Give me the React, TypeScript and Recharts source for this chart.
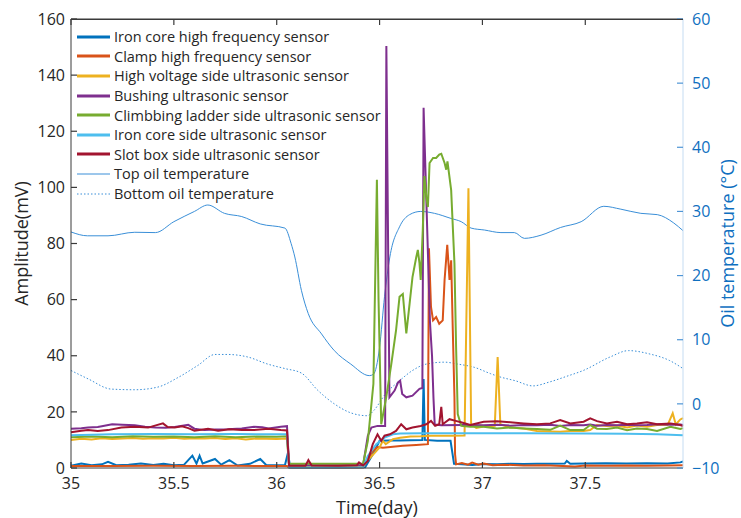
import { LineChart, Line, XAxis, YAxis, Legend, Label } from 'recharts';

type Pt = [number, number];

const FONT = '"Open Sans", "Noto Sans", sans-serif';
const AXIS = '#3a3a3a';
const TEMP_AXIS = '#0f6fbf';
const TICK_LEN = 6;

const xTicks = [35, 35.5, 36, 36.5, 37, 37.5];
const ampTicks = [0, 20, 40, 60, 80, 100, 120, 140, 160];
const tempTicks = [-10, 0, 10, 20, 30, 40, 50, 60];

// amplitude series (mV), [day, value]
const ironCoreHF: Pt[] = [
  [35.0, 0.8], [35.05, 1.6], [35.1, 1.0], [35.15, 1.3], [35.18, 2.2], [35.22, 1.0], [35.28, 1.2],
  [35.34, 1.6], [35.4, 1.1], [35.45, 1.5], [35.5, 1.0], [35.55, 1.2], [35.59, 4.4], [35.61, 1.6],
  [35.625, 4.4], [35.64, 1.6], [35.7, 3.2], [35.73, 1.2], [35.77, 2.8], [35.81, 0.9], [35.87, 1.5],
  [35.92, 3.2], [35.95, 1.0], [36.0, 1.0], [36.04, 1.0], [36.055, 5.5], [36.065, 0.2], [36.2, 0.3],
  [36.3, 0.2], [36.43, 0.3], [36.467, 4.9], [36.5, 9.7], [36.55, 9.8], [36.6, 9.8], [36.65, 9.9],
  [36.708, 10.0], [36.714, 31.7], [36.72, 10.0], [36.78, 9.7], [36.845, 9.7], [36.862, 1.5],
  [36.9, 1.3], [36.95, 1.1], [37.006, 1.4], [37.071, 1.3], [37.135, 1.5], [37.2, 1.4], [37.265, 1.5],
  [37.33, 1.5], [37.4, 1.6], [37.41, 2.5], [37.427, 1.5], [37.492, 1.6], [37.6, 1.7], [37.7, 1.6],
  [37.8, 1.7], [37.9, 1.6], [37.962, 2.0], [37.975, 2.3],
];

const clampHF: Pt[] = [
  [35.0, 0.7], [35.2, 0.7], [35.4, 0.8], [35.6, 0.7], [35.8, 0.8], [36.0, 0.7], [36.05, 0.7],
  [36.06, 0.2], [36.2, 0.2], [36.42, 0.2], [36.435, 2.5], [36.467, 6.0], [36.49, 7.5], [36.516, 7.2],
  [36.565, 7.6], [36.613, 7.9], [36.678, 8.2], [36.735, 8.5], [36.74, 78.3], [36.75, 57.4],
  [36.76, 52.6], [36.775, 53.8], [36.79, 51.4], [36.807, 52.6], [36.816, 67.0], [36.829, 79.5],
  [36.835, 72.9], [36.84, 67.0], [36.848, 74.0], [36.856, 49.0], [36.864, 25.2], [36.867, 4.9],
  [36.872, 1.3], [36.9, 1.8], [36.93, 1.2], [36.95, 1.9], [36.98, 1.2], [37.006, 1.6], [37.05, 1.0],
  [37.1, 1.2], [37.2, 0.9], [37.3, 1.0], [37.45, 0.5], [37.5, 0.9], [37.6, 0.8], [37.7, 0.9],
  [37.8, 0.8], [37.9, 0.9], [37.975, 1.0],
];

const hvUltrasonic: Pt[] = [
  [35.0, 10.0], [35.05, 10.4], [35.1, 10.2], [35.15, 10.6], [35.2, 10.3], [35.25, 10.5], [35.3, 10.7],
  [35.35, 10.4], [35.4, 10.6], [35.45, 10.5], [35.5, 10.8], [35.55, 10.4], [35.6, 10.6], [35.65, 10.5],
  [35.7, 10.7], [35.75, 10.3], [35.8, 10.6], [35.85, 10.2], [35.9, 10.5], [35.95, 10.4], [36.0, 10.3],
  [36.05, 10.5], [36.06, 0.5], [36.2, 0.5], [36.42, 0.5], [36.44, 2.5], [36.5, 7.3], [36.516, 9.7],
  [36.53, 8.5], [36.565, 10.3], [36.6, 10.8], [36.65, 11.2], [36.7, 11.3], [36.75, 11.5], [36.8, 11.5],
  [36.85, 11.5], [36.913, 11.6], [36.932, 99.7], [36.945, 15.6], [36.97, 14.3], [37.006, 14.8],
  [37.06, 15.0], [37.074, 39.5], [37.087, 15.6], [37.135, 14.4], [37.2, 14.1], [37.265, 13.2],
  [37.33, 13.0], [37.378, 12.9], [37.427, 13.2], [37.492, 13.2], [37.524, 13.5], [37.557, 15.3],
  [37.605, 15.0], [37.654, 15.1], [37.703, 14.4], [37.751, 15.1], [37.8, 14.7], [37.849, 15.3],
  [37.9, 15.3], [37.925, 19.5], [37.94, 15.5], [37.962, 17.3], [37.975, 17.8],
];

const bushing: Pt[] = [
  [35.0, 14.0], [35.05, 14.2], [35.083, 14.4], [35.13, 14.6], [35.15, 14.9], [35.2, 15.6], [35.25, 15.4],
  [35.31, 15.2], [35.36, 14.7], [35.41, 14.4], [35.46, 14.3], [35.504, 14.6], [35.57, 15.4], [35.6, 14.0],
  [35.65, 13.5], [35.7, 13.7], [35.76, 13.8], [35.83, 14.1], [35.89, 14.7], [35.93, 14.5], [35.96, 14.1],
  [36.02, 14.7], [36.05, 14.9], [36.06, 1.0], [36.2, 1.0], [36.42, 1.0], [36.443, 11.5], [36.46, 14.4],
  [36.49, 15.0], [36.527, 15.0], [36.533, 150.4], [36.548, 25.2], [36.573, 27.6], [36.59, 30.5],
  [36.6, 31.1], [36.61, 26.4], [36.63, 25.2], [36.66, 25.8], [36.694, 28.2], [36.708, 28.5],
  [36.714, 128.4], [36.745, 52.0], [36.755, 40.0], [36.762, 25.0], [36.768, 15.5], [36.8, 15.2],
  [36.9, 15.3], [36.941, 15.3], [37.006, 15.2], [37.071, 15.4], [37.135, 15.1], [37.2, 15.3],
  [37.265, 15.2], [37.33, 15.4], [37.378, 15.0], [37.427, 15.3], [37.492, 15.2], [37.524, 15.5],
  [37.557, 15.1], [37.605, 15.3], [37.654, 15.2], [37.703, 15.4], [37.751, 15.2], [37.8, 15.3],
  [37.849, 15.6], [37.914, 15.4], [37.962, 15.5], [37.975, 15.3],
];

const ladderUltrasonic: Pt[] = [
  [35.0, 11.0], [35.1, 11.2], [35.2, 11.0], [35.3, 11.3], [35.4, 11.1], [35.5, 11.2], [35.6, 11.0],
  [35.7, 11.3], [35.8, 11.0], [35.9, 11.2], [36.0, 11.1], [36.05, 11.3], [36.06, 1.5], [36.2, 1.5],
  [36.42, 1.5], [36.443, 9.7], [36.47, 30.0], [36.487, 102.7], [36.495, 60.0], [36.508, 15.6],
  [36.532, 25.0], [36.557, 37.0], [36.58, 49.0], [36.597, 61.0], [36.613, 62.0], [36.63, 48.0],
  [36.646, 58.6], [36.66, 68.0], [36.678, 75.0], [36.686, 77.7], [36.694, 73.0], [36.7, 67.0],
  [36.71, 84.8], [36.718, 104.0], [36.727, 96.7], [36.735, 93.0], [36.743, 108.7], [36.76, 110.5],
  [36.775, 110.5], [36.79, 111.7], [36.8, 112.0], [36.816, 108.7], [36.824, 106.3], [36.83, 109.3],
  [36.848, 99.0], [36.864, 72.9], [36.872, 43.0], [36.88, 19.2], [36.897, 15.0], [36.941, 14.7],
  [37.006, 14.7], [37.071, 14.1], [37.135, 14.4], [37.2, 14.1], [37.265, 13.9], [37.33, 13.6],
  [37.378, 15.1], [37.427, 13.5], [37.492, 13.5], [37.524, 15.3], [37.557, 14.0], [37.605, 13.9],
  [37.654, 14.4], [37.703, 13.5], [37.751, 14.1], [37.8, 13.9], [37.849, 13.2], [37.914, 14.7],
  [37.962, 13.9], [37.975, 14.2],
];

const coreSideUltrasonic: Pt[] = [
  [35.0, 11.7], [35.2, 12.0], [35.4, 12.1], [35.6, 12.0], [35.8, 12.1], [36.0, 12.0], [36.05, 12.0],
  [36.06, 0.2], [36.2, 0.2], [36.42, 0.3], [36.443, 4.3], [36.484, 8.5], [36.524, 10.8], [36.565, 12.0],
  [36.6, 12.3], [36.7, 12.4], [36.9, 12.4], [37.2, 12.4], [37.5, 12.3], [37.7, 12.2], [37.85, 12.0],
  [37.975, 11.7],
];

const slotBoxUltrasonic: Pt[] = [
  [35.0, 12.7], [35.05, 13.3], [35.083, 13.5], [35.13, 13.2], [35.18, 13.5], [35.245, 14.4],
  [35.31, 14.7], [35.375, 14.4], [35.447, 15.9], [35.47, 14.6], [35.504, 14.4], [35.54, 14.9],
  [35.57, 14.2], [35.6, 13.3], [35.666, 14.0], [35.715, 13.3], [35.77, 13.8], [35.83, 13.5],
  [35.89, 13.5], [35.96, 14.0], [36.02, 13.5], [36.05, 13.4], [36.06, 0.8], [36.14, 0.8],
  [36.154, 2.8], [36.17, 0.9], [36.3, 0.8], [36.39, 1.0], [36.4, 2.0], [36.42, 0.9], [36.443, 2.5],
  [36.467, 8.5], [36.49, 12.0], [36.508, 9.7], [36.524, 11.5], [36.55, 12.0], [36.58, 13.2],
  [36.605, 15.6], [36.63, 13.8], [36.66, 14.4], [36.7, 15.0], [36.727, 15.6], [36.75, 16.8],
  [36.77, 15.0], [36.79, 15.6], [36.8, 21.8], [36.807, 15.6], [36.84, 17.4], [36.87, 16.8],
  [36.9, 16.2], [36.941, 15.3], [37.006, 16.5], [37.071, 16.7], [37.135, 16.3], [37.2, 15.9],
  [37.265, 15.6], [37.33, 15.9], [37.378, 17.1], [37.427, 15.9], [37.492, 16.5], [37.524, 17.7],
  [37.557, 16.7], [37.605, 15.9], [37.654, 16.5], [37.703, 15.6], [37.751, 15.9], [37.8, 16.3],
  [37.849, 15.6], [37.914, 15.9], [37.962, 15.3], [37.975, 14.9],
];

// oil temperature (°C), [day, value]
const topOil: Pt[] = [
  [35.0, 26.8], [35.08, 26.2], [35.18, 26.2], [35.31, 26.75], [35.41, 26.7], [35.5, 28.4], [35.6, 30.0],
  [35.665, 31.0], [35.746, 29.7], [35.83, 29.2], [35.92, 28.05], [36.04, 27.4], [36.07, 25.0],
  [36.088, 22.9], [36.12, 17.7], [36.153, 14.1], [36.218, 10.9], [36.28, 8.3], [36.36, 6.2],
  [36.45, 4.4], [36.47, 4.6], [36.5, 8.8], [36.524, 16.7], [36.55, 22.9], [36.597, 27.6],
  [36.646, 29.5], [36.7, 30.0], [36.767, 29.7], [36.848, 28.9], [36.897, 28.4], [36.945, 27.4],
  [37.01, 27.1], [37.09, 26.7], [37.155, 26.7], [37.204, 25.8], [37.285, 26.3], [37.38, 27.5],
  [37.48, 28.4], [37.59, 30.8], [37.673, 30.35], [37.77, 29.7], [37.85, 29.5], [37.93, 28.2],
  [37.975, 27.0],
];

const bottomOil: Pt[] = [
  [35.0, 5.2], [35.083, 3.9], [35.196, 2.3], [35.31, 2.2], [35.42, 2.6], [35.52, 4.1], [35.617, 6.0],
  [35.7, 7.7], [35.76, 7.7], [35.86, 7.3], [35.956, 6.2], [36.04, 5.5], [36.12, 4.8], [36.2, 2.1],
  [36.28, 0.0], [36.36, -1.4], [36.44, -1.85], [36.47, -1.1], [36.53, 1.6], [36.597, 3.6],
  [36.66, 5.2], [36.727, 6.2], [36.816, 6.5], [36.88, 6.2], [36.96, 5.7], [37.04, 4.7], [37.08, 4.25],
  [37.16, 3.6], [37.245, 2.8], [37.325, 3.4], [37.41, 4.3], [37.49, 5.2], [37.62, 7.3], [37.71, 8.3],
  [37.81, 7.8], [37.91, 6.75], [37.975, 5.5],
];

type Series = {
  name: string;
  data: Pt[];
  color: string;
  width: number;
  axis: 'left' | 'right';
  dash?: string;
};

const series: Series[] = [
  { name: 'Iron core high frequency sensor', data: ironCoreHF, color: '#0072BD', width: 2, axis: 'left' },
  { name: 'Clamp high frequency sensor', data: clampHF, color: '#D95319', width: 2, axis: 'left' },
  { name: 'High voltage side ultrasonic sensor', data: hvUltrasonic, color: '#EDB120', width: 2, axis: 'left' },
  { name: 'Bushing ultrasonic sensor', data: bushing, color: '#7E2F8E', width: 2, axis: 'left' },
  { name: 'Climbbing ladder side ultrasonic sensor', data: ladderUltrasonic, color: '#77AC30', width: 2, axis: 'left' },
  { name: 'Iron core side ultrasonic sensor', data: coreSideUltrasonic, color: '#4DBEEE', width: 2, axis: 'left' },
  { name: 'Slot box side ultrasonic sensor', data: slotBoxUltrasonic, color: '#A2142F', width: 2, axis: 'left' },
  { name: 'Top oil temperature', data: topOil, color: '#3a8fd8', width: 1, axis: 'right' },
  { name: 'Bottom oil temperature', data: bottomOil, color: '#3a8fd8', width: 1, axis: 'right', dash: '1.5 2' },
];

const toRows = (pts: Pt[]) => pts.map(([x, y]) => ({ x, y }));

const LegendBox = () => (
  <div style={{ fontFamily: FONT, fontSize: 14.5, color: '#262626' }}>
    {series.map((s) => (
      <div key={s.name} style={{ display: 'flex', alignItems: 'center', height: 19.6, whiteSpace: 'nowrap' }}>
        <svg width={37} height={10} style={{ flex: 'none' }}>
          <line x1={0} x2={33} y1={5} y2={5} stroke={s.color} strokeWidth={s.width > 1 ? 3 : 1} strokeDasharray={s.dash} />
        </svg>
        <span>{s.name}</span>
      </div>
    ))}
  </div>
);

const minus = (v: number) => String(v).replace('-', '\u2212');

// ticks drawn inward (MATLAB box style); offsets match each axis' tickMargin
const BottomTick = ({ x, y, payload }: any) => (
  <g>
    <line x1={x} x2={x} y1={y - 10} y2={y - 10 - TICK_LEN} stroke={AXIS} strokeWidth={1.2} />
    <text x={x} y={y} dy="0.71em" textAnchor="middle" fill="#262626" fontSize={16} fontFamily={FONT}>
      {payload.value}
    </text>
  </g>
);

const TopTick = ({ x, y }: any) => (
  <line x1={x} x2={x} y1={y + 2} y2={y + 2 + TICK_LEN} stroke={AXIS} strokeWidth={1.2} />
);

const LeftTick = ({ x, y, payload }: any) => (
  <g>
    <line x1={x + 6} x2={x + 6 + TICK_LEN} y1={y} y2={y} stroke={AXIS} strokeWidth={1.2} />
    <text x={x} y={y} dy="0.355em" textAnchor="end" fill="#262626" fontSize={16} fontFamily={FONT}>
      {payload.value}
    </text>
  </g>
);

const RightTick = ({ x, y, payload }: any) => (
  <g>
    <line x1={x - 9} x2={x - 9 - TICK_LEN} y1={y} y2={y} stroke="#4f95d6" strokeWidth={1.2} />
    <text x={x} y={y} dy="0.355em" textAnchor="start" fill={TEMP_AXIS} fontSize={16} fontFamily={FONT}>
      {minus(payload.value)}
    </text>
  </g>
);

export default function App() {
  const temps = series.filter((s) => s.axis === 'right');
  const sensors = series.filter((s) => s.axis === 'left');
  return (
    <div style={{ position: 'relative', width: 741, height: 518, background: '#fff' }}>
      <style>{'body{margin:0}'}</style>
      <LineChart width={741} height={518} margin={{ top: 11, right: 0, bottom: 0, left: 0 }}>
        <XAxis
          dataKey="x"
          type="number"
          domain={[35, 37.975]}
          ticks={xTicks}
          height={50}
          tickSize={0}
          tickMargin={10}
          axisLine={{ stroke: AXIS }}
          tickLine={false}
          tick={<BottomTick />}
        >
          <Label value="Time(day)" position="insideBottom" offset={4} style={{ fill: '#262626', fontSize: 18, fontFamily: FONT }} />
        </XAxis>
        <XAxis
          xAxisId="top"
          orientation="top"
          dataKey="x"
          type="number"
          domain={[35, 37.975]}
          ticks={xTicks}
          height={8}
          tickSize={0}
          tickMargin={2}
          axisLine={{ stroke: AXIS, strokeWidth: 1.2 }}
          tickLine={false}
          tick={<TopTick />}
        />
        <YAxis
          yAxisId="left"
          domain={[0, 160]}
          ticks={ampTicks}
          width={71}
          tickSize={0}
          tickMargin={6}
          axisLine={{ stroke: AXIS }}
          tickLine={false}
          tick={<LeftTick />}
        >
          <Label value="Amplitude(mV)" angle={-90} position="insideLeft" offset={22} style={{ textAnchor: 'middle', fill: '#262626', fontSize: 18, fontFamily: FONT }} />
        </YAxis>
        <YAxis
          yAxisId="right"
          orientation="right"
          domain={[-10, 60]}
          ticks={tempTicks}
          width={58}
          tickSize={0}
          tickMargin={9}
          axisLine={{ stroke: '#c5dcf2' }}
          tickLine={false}
          tick={<RightTick />}
        >
          <Label value="Oil temperature (°C)" angle={-90} position="insideRight" offset={13} style={{ textAnchor: 'middle', fill: TEMP_AXIS, fontSize: 18, fontFamily: FONT }} />
        </YAxis>
        <Legend
          layout="vertical"
          align="center"
          verticalAlign="middle"
          content={LegendBox}
          wrapperStyle={{ position: 'absolute', top: 27, left: 77, width: 'auto', height: 'auto' }}
        />
        {temps.map((s) => (
          <Line
            key={s.name}
            xAxisId="top"
            yAxisId="right"
            data={toRows(s.data)}
            dataKey="y"
            name={s.name}
            type="monotone"
            stroke={s.color}
            strokeWidth={s.width}
            strokeDasharray={s.dash}
            dot={false}
            activeDot={false}
            isAnimationActive={false}
          />
        ))}
        {sensors.map((s) => (
          <Line
            key={s.name}
            yAxisId="left"
            data={toRows(s.data)}
            dataKey="y"
            name={s.name}
            type="linear"
            stroke={s.color}
            strokeWidth={s.width}
            dot={false}
            activeDot={false}
            isAnimationActive={false}
          />
        ))}
      </LineChart>
      {/* box frame top edge */}
      <div style={{ position: 'absolute', top: 18.5, left: 71, width: 612, height: 1, background: AXIS, pointerEvents: 'none' }} />
    </div>
  );
}
